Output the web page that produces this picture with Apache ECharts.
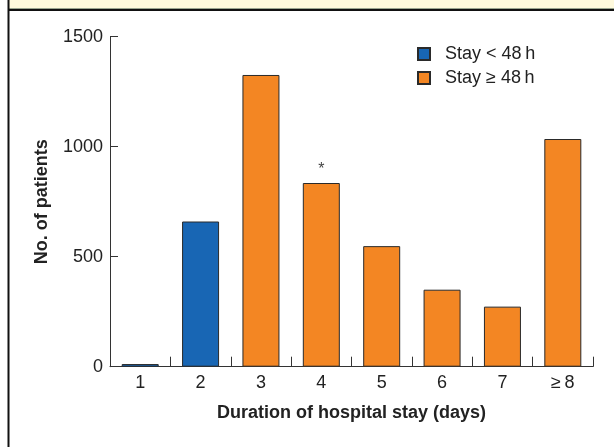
<!DOCTYPE html>
<html><head><meta charset="utf-8">
<script src="https://cdn.jsdelivr.net/npm/echarts@6/dist/echarts.min.js"></script>
<style>html,body{margin:0;padding:0;background:#fff}#c{width:614px;height:447px}</style>
</head><body><div id="c"></div>
<script>
var categories = ['1', '2', '3', '4', '5', '6', '7', '\u2265\u20098'];
var shortStay = [12, 660, null, null, null, null, null, null];
var longStay = [null, null, 1326, 835, 548, 350, 273, 1035];
var yTicks = [0, 500, 1000, 1500];
var seriesNames = ['Stay < 48\u2009h', 'Stay \u2265 48\u2009h'];
var markedIndex = 3;

var font = 'Liberation Sans, Arial, Helvetica, sans-serif';
var chart = echarts.init(document.getElementById('c'));
var longData = longStay.map(function (v, i) {
  if (i === markedIndex) return {value: v, label: {show: true, position: 'top', formatter: '*', distance: 5, fontSize: 16, color: '#444', fontFamily: font}};
  return v;
});
chart.setOption({
  animation: false,
  backgroundColor: '#fff',
  graphic: [
    {type: 'rect', shape: {x: 8, y: 0, width: 606, height: 8}, style: {fill: '#fef9dc'}, silent: true},
    {type: 'line', shape: {x1: 8, y1: 8.5, x2: 614, y2: 8.5}, style: {stroke: '#9aa58f', lineWidth: 1}, silent: true},
    {type: 'line', shape: {x1: 8, y1: 10, x2: 614, y2: 10}, style: {stroke: '#111', lineWidth: 2}, silent: true},
    {type: 'line', shape: {x1: 8.5, y1: 0, x2: 8.5, y2: 447}, style: {stroke: '#111', lineWidth: 2}, silent: true}
  ],
  legend: {
    data: seriesNames,
    orient: 'vertical',
    left: 412, top: 40,
    itemWidth: 12, itemHeight: 12, itemGap: 6,
    icon: 'rect',
    textStyle: {fontSize: 18, color: '#222', fontFamily: font, padding: [0, 0, 0, 10]}
  },
  grid: {left: 110, right: 21, top: 36.7, bottom: 80.3, containLabel: false},
  xAxis: {
    type: 'category',
    data: categories,
    boundaryGap: true,
    axisLine: {lineStyle: {color: '#333', width: 1}},
    axisTick: {show: true, inside: true, length: 10, lineStyle: {color: '#333'}},
    axisLabel: {fontSize: 18, color: '#222', fontFamily: font, margin: 7},
    name: 'Duration of hospital stay (days)',
    nameLocation: 'middle',
    nameGap: 37,
    nameTextStyle: {fontSize: 18, fontWeight: 'bold', color: '#222', fontFamily: font}
  },
  yAxis: {
    type: 'value',
    min: 0, max: 1500, interval: 500,
    axisLine: {show: true, lineStyle: {color: '#333', width: 1}},
    axisTick: {show: true, inside: true, length: 8, lineStyle: {color: '#333'}},
    splitLine: {show: false},
    axisLabel: {fontSize: 18, color: '#222', fontFamily: font, margin: 7,
      formatter: function (v) { return yTicks.indexOf(v) >= 0 ? String(v) : ''; }},
    name: 'No. of patients',
    nameLocation: 'middle',
    nameGap: 59,
    nameTextStyle: {fontSize: 18, fontWeight: 'bold', color: '#222', fontFamily: font}
  },
  series: [
    {name: seriesNames[0], type: 'bar', data: shortStay, barWidth: 37, barGap: '-100%',
      itemStyle: {color: '#1866b4', borderColor: '#2a2a2a', borderWidth: 1}},
    {name: seriesNames[1], type: 'bar', data: longData, barWidth: 37, barGap: '-100%',
      itemStyle: {color: '#f38623', borderColor: '#2a2a2a', borderWidth: 1}}
  ]
});
</script></body></html>
